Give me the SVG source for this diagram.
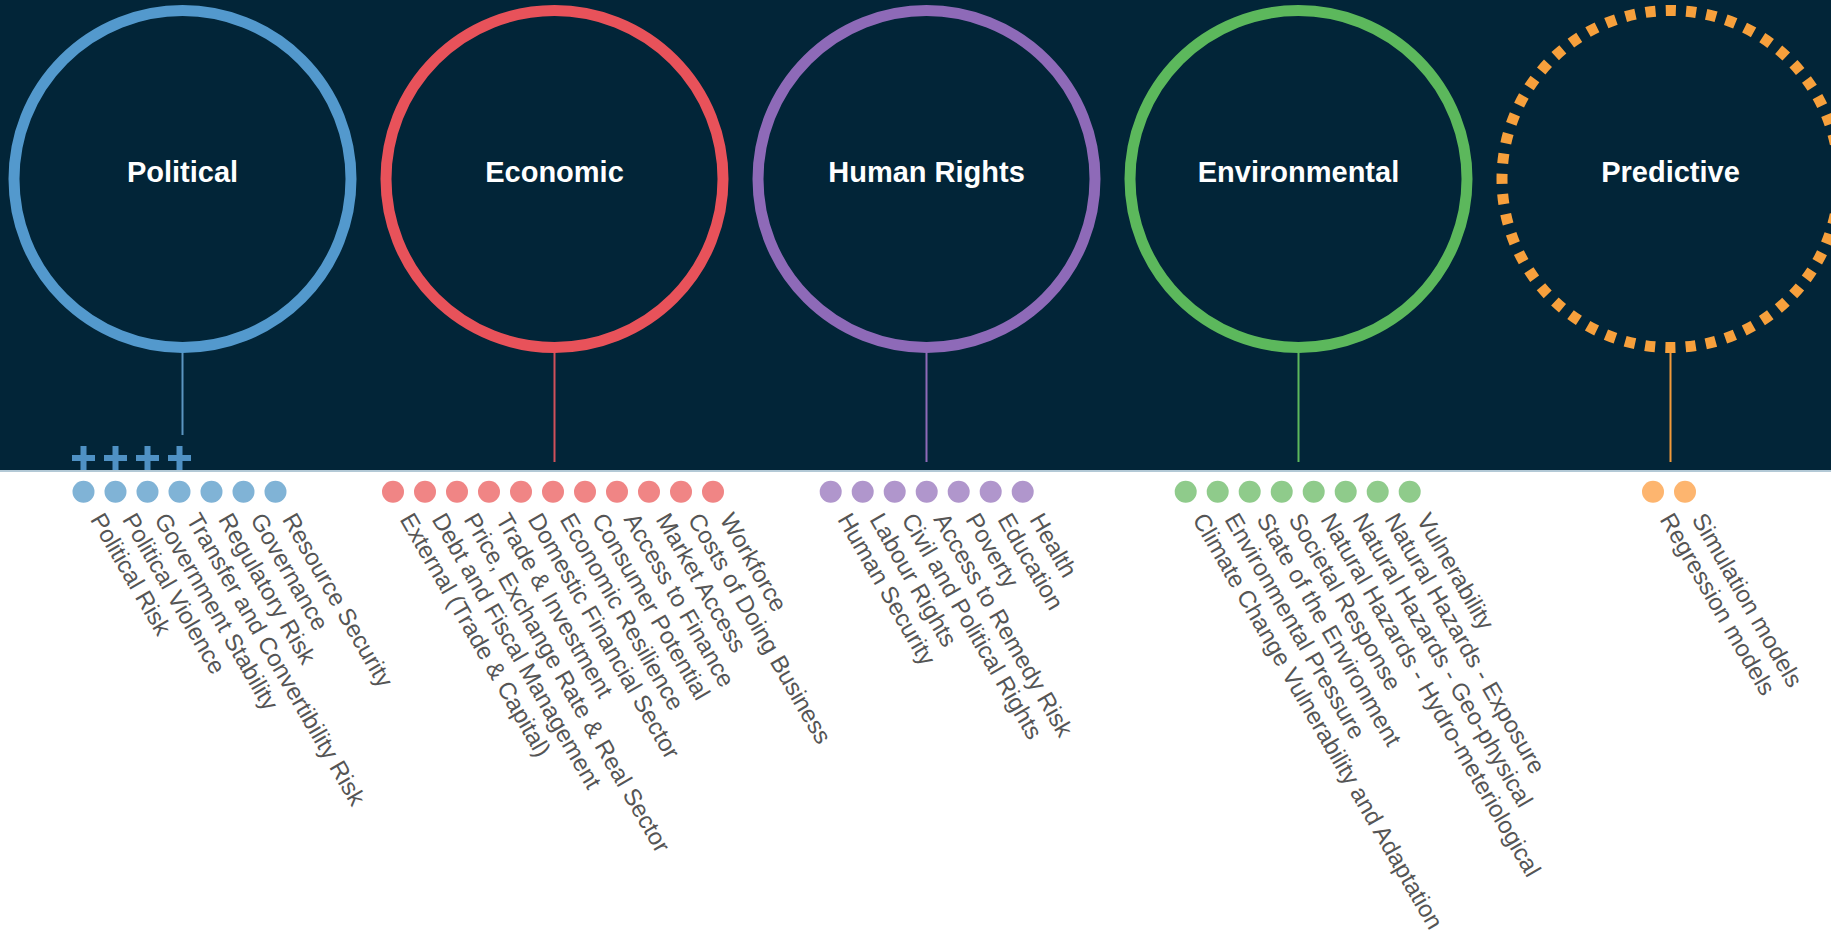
<svg xmlns="http://www.w3.org/2000/svg" width="1831" height="933" viewBox="0 0 1831 933">
<style>
.bg{fill:#022538}
.ring{fill:none;stroke-width:11}
.title{font-family:"Liberation Sans",Arial,sans-serif;font-weight:bold;font-size:29px;fill:#ffffff;text-anchor:middle}
.lbl{font-family:"Liberation Sans",Arial,sans-serif;font-size:24px;fill:#555555}
.conn{stroke-width:2;fill:none}
.plus{stroke:#4f91c4;stroke-width:6;fill:none}
.pol{fill:#80b3d6}.eco{fill:#f08585}.hr{fill:#b096cc}.env{fill:#8fcb8b}.pre{fill:#fdb56f}
</style>
<rect class="bg" x="0" y="0" width="1831" height="471"/>
<rect x="0" y="470" width="1831" height="2" fill="#b3c9d6"/>
<rect x="0" y="472" width="1831" height="461" fill="#ffffff"/>

<g id="connectors">
<line class="conn" x1="182.5" y1="352" x2="182.5" y2="435" stroke="#5b95c0"/>
<line class="conn" x1="554.5" y1="352" x2="554.5" y2="462" stroke="#d0505a"/>
<line class="conn" x1="926.5" y1="352" x2="926.5" y2="462" stroke="#8e6ab8"/>
<line class="conn" x1="1298.5" y1="352" x2="1298.5" y2="462" stroke="#5cb85c"/>
<line class="conn" x1="1670.5" y1="352" x2="1670.5" y2="462" stroke="#f29a3a"/>
</g>

<g id="political">
<circle class="ring" cx="182.5" cy="179" r="168.5" stroke="#5399cd"/>
<text class="title" x="182.5" y="182">Political</text>
<path class="plus" d="M72,458H95M83.5,446V470M104,458H127M115.5,446V470M136,458H159M147.5,446V470M168,458H191M179.5,446V470"/>
<circle class="pol" cx="83.5" cy="491.7" r="11"/>
<circle class="pol" cx="115.5" cy="491.7" r="11"/>
<circle class="pol" cx="147.5" cy="491.7" r="11"/>
<circle class="pol" cx="179.5" cy="491.7" r="11"/>
<circle class="pol" cx="211.5" cy="491.7" r="11"/>
<circle class="pol" cx="243.5" cy="491.7" r="11"/>
<circle class="pol" cx="275.5" cy="491.7" r="11"/>
<text class="lbl" transform="translate(83.5,491.7) rotate(60)" x="27" y="8.4">Political Risk</text>
<text class="lbl" transform="translate(115.5,491.7) rotate(60)" x="27" y="8.4">Political Violence</text>
<text class="lbl" transform="translate(147.5,491.7) rotate(60)" x="27" y="8.4">Government Stability</text>
<text class="lbl" transform="translate(179.5,491.7) rotate(60)" x="27" y="8.4">Transfer and Convertibility Risk</text>
<text class="lbl" transform="translate(211.5,491.7) rotate(60)" x="27" y="8.4">Regulatory Risk</text>
<text class="lbl" transform="translate(243.5,491.7) rotate(60)" x="27" y="8.4">Governance</text>
<text class="lbl" transform="translate(275.5,491.7) rotate(60)" x="27" y="8.4">Resource Security</text>
</g>

<g id="economic">
<circle class="ring" cx="554.5" cy="179" r="168.5" stroke="#e8525a"/>
<text class="title" x="554.5" y="182">Economic</text>
<circle class="eco" cx="393" cy="491.7" r="11"/>
<circle class="eco" cx="425" cy="491.7" r="11"/>
<circle class="eco" cx="457" cy="491.7" r="11"/>
<circle class="eco" cx="489" cy="491.7" r="11"/>
<circle class="eco" cx="521" cy="491.7" r="11"/>
<circle class="eco" cx="553" cy="491.7" r="11"/>
<circle class="eco" cx="585" cy="491.7" r="11"/>
<circle class="eco" cx="617" cy="491.7" r="11"/>
<circle class="eco" cx="649" cy="491.7" r="11"/>
<circle class="eco" cx="681" cy="491.7" r="11"/>
<circle class="eco" cx="713" cy="491.7" r="11"/>
<text class="lbl" transform="translate(393,491.7) rotate(60)" x="27" y="8.4">External (Trade &amp; Capital)</text>
<text class="lbl" transform="translate(425,491.7) rotate(60)" x="27" y="8.4">Debt and Fiscal Management</text>
<text class="lbl" transform="translate(457,491.7) rotate(60)" x="27" y="8.4">Price, Exchange Rate &amp; Real Sector</text>
<text class="lbl" transform="translate(489,491.7) rotate(60)" x="27" y="8.4">Trade &amp; Investment</text>
<text class="lbl" transform="translate(521,491.7) rotate(60)" x="27" y="8.4">Domestic Financial Sector</text>
<text class="lbl" transform="translate(553,491.7) rotate(60)" x="27" y="8.4">Economic Resilience</text>
<text class="lbl" transform="translate(585,491.7) rotate(60)" x="27" y="8.4">Consumer Potential</text>
<text class="lbl" transform="translate(617,491.7) rotate(60)" x="27" y="8.4">Access to Finance</text>
<text class="lbl" transform="translate(649,491.7) rotate(60)" x="27" y="8.4">Market Access</text>
<text class="lbl" transform="translate(681,491.7) rotate(60)" x="27" y="8.4">Costs of Doing Business</text>
<text class="lbl" transform="translate(713,491.7) rotate(60)" x="27" y="8.4">Workforce</text>
</g>

<g id="human-rights">
<circle class="ring" cx="926.5" cy="179" r="168.5" stroke="#8e6ab8"/>
<text class="title" x="926.5" y="182">Human Rights</text>
<circle class="hr" cx="830.7" cy="491.7" r="11"/>
<circle class="hr" cx="862.7" cy="491.7" r="11"/>
<circle class="hr" cx="894.7" cy="491.7" r="11"/>
<circle class="hr" cx="926.7" cy="491.7" r="11"/>
<circle class="hr" cx="958.7" cy="491.7" r="11"/>
<circle class="hr" cx="990.7" cy="491.7" r="11"/>
<circle class="hr" cx="1022.7" cy="491.7" r="11"/>
<text class="lbl" transform="translate(830.7,491.7) rotate(60)" x="27" y="8.4">Human Security</text>
<text class="lbl" transform="translate(862.7,491.7) rotate(60)" x="27" y="8.4">Labour Rights</text>
<text class="lbl" transform="translate(894.7,491.7) rotate(60)" x="27" y="8.4">Civil and Political Rights</text>
<text class="lbl" transform="translate(926.7,491.7) rotate(60)" x="27" y="8.4">Access to Remedy Risk</text>
<text class="lbl" transform="translate(958.7,491.7) rotate(60)" x="27" y="8.4">Poverty</text>
<text class="lbl" transform="translate(990.7,491.7) rotate(60)" x="27" y="8.4">Education</text>
<text class="lbl" transform="translate(1022.7,491.7) rotate(60)" x="27" y="8.4">Health</text>
</g>

<g id="environmental">
<circle class="ring" cx="1298.5" cy="179" r="168.5" stroke="#5cb85c"/>
<text class="title" x="1298.5" y="182">Environmental</text>
<circle class="env" cx="1185.7" cy="491.7" r="11"/>
<circle class="env" cx="1217.7" cy="491.7" r="11"/>
<circle class="env" cx="1249.7" cy="491.7" r="11"/>
<circle class="env" cx="1281.7" cy="491.7" r="11"/>
<circle class="env" cx="1313.7" cy="491.7" r="11"/>
<circle class="env" cx="1345.7" cy="491.7" r="11"/>
<circle class="env" cx="1377.7" cy="491.7" r="11"/>
<circle class="env" cx="1409.7" cy="491.7" r="11"/>
<text class="lbl" transform="translate(1185.7,491.7) rotate(60)" x="27" y="8.4">Climate Change Vulnerability and Adaptation</text>
<text class="lbl" transform="translate(1217.7,491.7) rotate(60)" x="27" y="8.4">Environmental Pressure</text>
<text class="lbl" transform="translate(1249.7,491.7) rotate(60)" x="27" y="8.4">State of the Environment</text>
<text class="lbl" transform="translate(1281.7,491.7) rotate(60)" x="27" y="8.4">Societal Response</text>
<text class="lbl" transform="translate(1313.7,491.7) rotate(60)" x="27" y="8.4">Natural Hazards - Hydro-meteriological</text>
<text class="lbl" transform="translate(1345.7,491.7) rotate(60)" x="27" y="8.4">Natural Hazards - Geo-physical</text>
<text class="lbl" transform="translate(1377.7,491.7) rotate(60)" x="27" y="8.4">Natural Hazards - Exposure</text>
<text class="lbl" transform="translate(1409.7,491.7) rotate(60)" x="27" y="8.4">Vulnerability</text>
</g>

<g id="predictive">
<circle class="ring" cx="1670.5" cy="179" r="168.5" stroke="#f7a03c" stroke-dasharray="10.18 10.18" stroke-dashoffset="5.09"/>
<text class="title" x="1670.5" y="182">Predictive</text>
<circle class="pre" cx="1653" cy="491.7" r="11"/>
<circle class="pre" cx="1685" cy="491.7" r="11"/>
<text class="lbl" transform="translate(1653,491.7) rotate(60)" x="27" y="8.4">Regression models</text>
<text class="lbl" transform="translate(1685,491.7) rotate(60)" x="27" y="8.4">Simulation models</text>
</g>
</svg>
